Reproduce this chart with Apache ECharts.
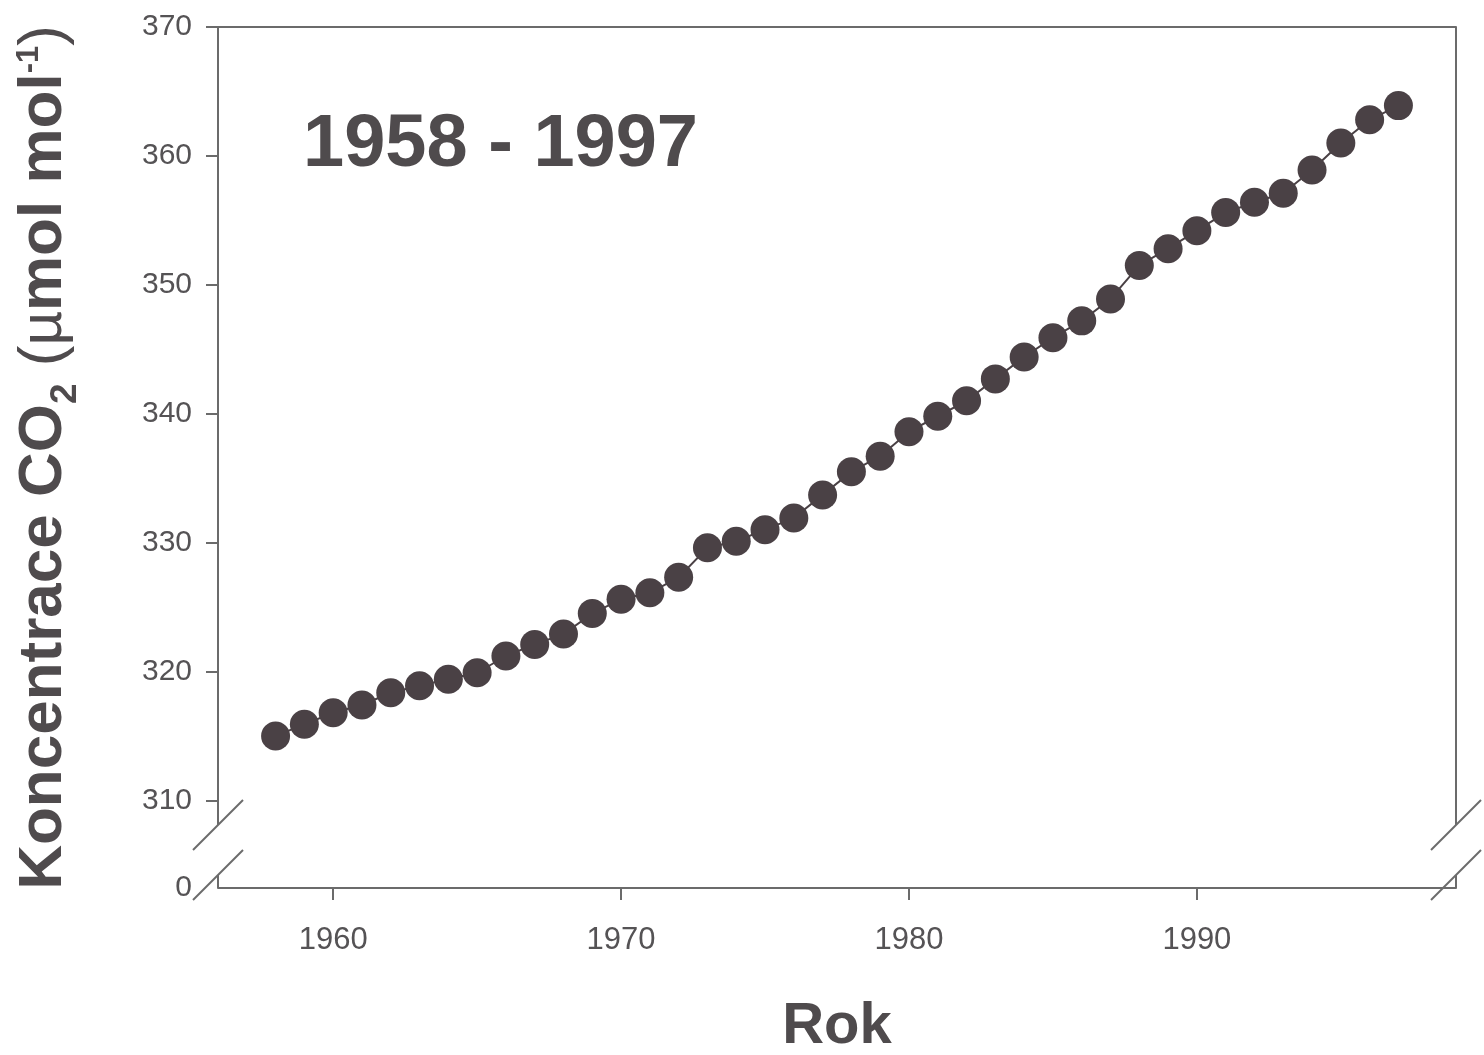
<!DOCTYPE html>
<html>
<head>
<meta charset="utf-8">
<script src="https://cdn.jsdelivr.net/npm/echarts@6/dist/echarts.min.js"></script>
<style>
  html, body { margin: 0; padding: 0; background: #ffffff; }
  #chart { width: 1484px; height: 1055px; }
</style>
</head>
<body>
<div id="chart"></div>
<script>
// ---- data ----
const years = [1958, 1959, 1960, 1961, 1962, 1963, 1964, 1965, 1966, 1967,
               1968, 1969, 1970, 1971, 1972, 1973, 1974, 1975, 1976, 1977,
               1978, 1979, 1980, 1981, 1982, 1983, 1984, 1985, 1986, 1987,
               1988, 1989, 1990, 1991, 1992, 1993, 1994, 1995, 1996, 1997];
const co2 = [315.0, 315.9, 316.8, 317.4, 318.35, 318.9, 319.4, 319.9, 321.2, 322.1,
             322.9, 324.5, 325.6, 326.1, 327.3, 329.6, 330.1, 331.0, 331.9, 333.7,
             335.5, 336.7, 338.6, 339.8, 341.0, 342.7, 344.4, 345.9, 347.2, 348.9,
             351.5, 352.8, 354.2, 355.6, 356.4, 357.1, 358.9, 361.0, 362.8, 363.9];
const xTickValues = [1960, 1970, 1980, 1990];
const yTickValues = [310, 320, 330, 340, 350, 360, 370];
const zeroLabel = '0';
const periodTitle = '1958 - 1997';
const xAxisTitle = 'Rok';

// axis extents (the y axis is broken between 0 and 310)
const X_MIN = 1956, X_MAX = 1999;
const Y_ZERO_POS = 303.2, Y_MAX = 370;

const FONT = '"Liberation Sans", Arial, Helvetica, sans-serif';
const AXIS_COLOR = '#6b6b6b';
const TEXT_COLOR = '#555355';
const DOT_COLOR = '#4a4145';

const chart = echarts.init(document.getElementById('chart'));

const seriesData = years.map((y, i) => [y, co2[i]]);

const option = {
  animation: false,
  backgroundColor: '#ffffff',
  title: {
    text: periodTitle,
    left: 298,
    top: 104,
    textStyle: { fontFamily: FONT, fontSize: 74, fontWeight: 'bold', color: '#4f4b4d' }
  },
  grid: { left: 218, right: 28, top: 27, bottom: 167, outerBoundsMode: 'none', containLabel: false },
  xAxis: [{
    type: 'value',
    min: X_MIN,
    max: X_MAX,
    name: xAxisTitle,
    nameLocation: 'middle',
    nameGap: 110,
    nameTextStyle: { fontFamily: FONT, fontSize: 58, fontWeight: 'bold', color: '#4f4b4d' },
    axisLine: { show: true, onZero: false, lineStyle: { color: AXIS_COLOR, width: 2 } },
    axisTick: { show: true, length: 12, customValues: xTickValues, lineStyle: { color: AXIS_COLOR, width: 2 } },
    axisLabel: {
      customValues: xTickValues,
      formatter: v => String(v),
      margin: 37,
      fontFamily: FONT, fontSize: 31, color: TEXT_COLOR
    },
    splitLine: { show: false }
  }, {
    type: 'value',
    position: 'top',
    min: X_MIN,
    max: X_MAX,
    axisLine: { show: true, onZero: false, lineStyle: { color: AXIS_COLOR, width: 2 } },
    axisTick: { show: false },
    axisLabel: { show: false },
    splitLine: { show: false }
  }],
  yAxis: {
    type: 'value',
    min: Y_ZERO_POS,
    max: Y_MAX,
    name: '{b|Koncentrace CO}{sub|2}{b| }{p|(}{mu|µ}{b|mol mol}{sup|-1}{p|)}',
    nameLocation: 'middle',
    nameRotate: 90,
    nameGap: 140,
    nameTextStyle: {
      fontFamily: FONT, color: '#4f4b4d',
      rich: {
        b: { fontFamily: FONT, fontSize: 62, fontWeight: 'bold', color: '#4f4b4d', lineHeight: 68 },
        p: { fontFamily: FONT, fontSize: 62, fontWeight: 'normal', color: '#4f4b4d', lineHeight: 68 },
        mu: { fontFamily: FONT, fontSize: 60, fontWeight: 'normal', color: '#4f4b4d', lineHeight: 68 },
        sub: { fontFamily: FONT, fontSize: 37, fontWeight: 'bold', color: '#4f4b4d', verticalAlign: 'bottom', lineHeight: 68, padding: [0, 0, -6, 0] },
        sup: { fontFamily: FONT, fontSize: 31, fontWeight: 'bold', color: '#4f4b4d', verticalAlign: 'top', lineHeight: 68, padding: [4, 0, 0, 0] }
      }
    },
    axisLine: { show: false },
    axisTick: { show: true, length: 12, customValues: yTickValues, lineStyle: { color: AXIS_COLOR, width: 2 } },
    axisLabel: {
      customValues: [Y_ZERO_POS].concat(yTickValues),
      formatter: v => (v === Y_ZERO_POS ? zeroLabel : String(v)),
      margin: 26,
      fontFamily: FONT, fontSize: 30, color: TEXT_COLOR
    },
    splitLine: { show: false }
  },
  series: [{
    type: 'line',
    xAxisIndex: 0,
    yAxisIndex: 0,
    data: seriesData,
    symbol: 'circle',
    symbolSize: 29,
    showAllSymbol: true,
    lineStyle: { color: DOT_COLOR, width: 2 },
    itemStyle: { color: DOT_COLOR, borderWidth: 0 },
    z: 3
  }]
};

chart.setOption(option);

// ---- broken-axis decorations, positioned through the chart's own scales ----
const px = v => chart.convertToPixel({ xAxisIndex: 0 }, v);
const py = v => chart.convertToPixel({ yAxisIndex: 0 }, v);
const xL = px(X_MIN), xR = px(X_MAX);
const yT = py(Y_MAX), yB = py(Y_ZERO_POS);
const b1 = yB - 63, b2 = yB - 13, s = 25;
const ls = { stroke: AXIS_COLOR, lineWidth: 2 };
const seg = (x1, y1, x2, y2) => ({ type: 'line', silent: true, z: 10, shape: { x1, y1, x2, y2 }, style: ls });
const graphics = [];
[xL, xR].forEach(x => {
  graphics.push(seg(x, yT, x, b1));
  graphics.push(seg(x, b2, x, yB));
  graphics.push(seg(x - s, b1 + s, x + s, b1 - s));
  graphics.push(seg(x - s, b2 + s, x + s, b2 - s));
});
chart.setOption({ graphic: graphics });
</script>
</body>
</html>
